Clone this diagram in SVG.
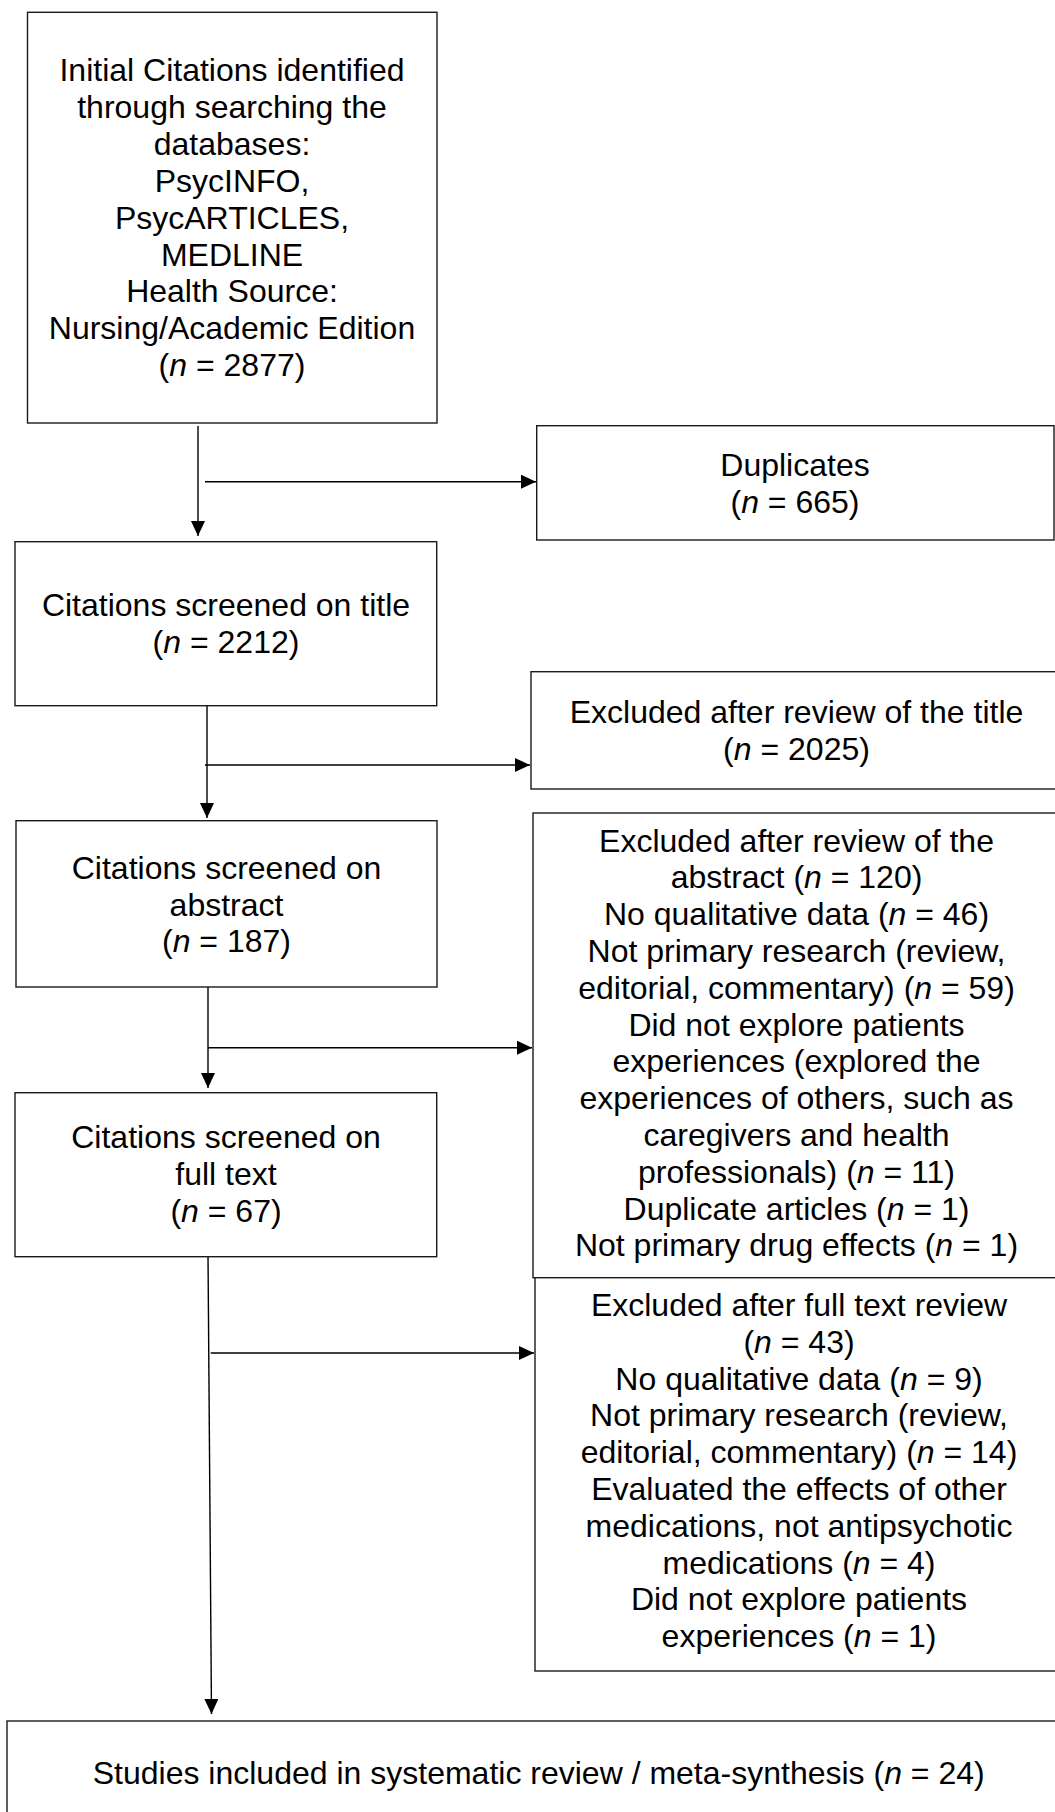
<svg xmlns="http://www.w3.org/2000/svg" width="1055" height="1812" viewBox="0 0 1055 1812">
<style>
.box{fill:#fff;stroke:#1a1a1a;stroke-width:1.4}
.t{font-family:"Liberation Sans",Arial,sans-serif;font-size:32px;text-anchor:middle;fill:#000}
.c{stroke:#000;stroke-width:1.4;fill:none}
.i{font-style:italic}
</style>
<defs>
<marker id="ah" viewBox="0 0 15 14" refX="15" refY="7" markerWidth="15" markerHeight="14" markerUnits="userSpaceOnUse" orient="auto">
<path d="M0,0 L15,7 L0,14 z" fill="#000"/>
</marker>
</defs>
<rect width="1055" height="1812" fill="#fff"/>

<g id="connectors">
<path class="c" d="M198,426 L198,536" marker-end="url(#ah)"/>
<path class="c" d="M205,481.7 L536,481.7" marker-end="url(#ah)"/>
<path class="c" d="M207,706 L207,818" marker-end="url(#ah)"/>
<path class="c" d="M205,765 L530,765" marker-end="url(#ah)"/>
<path class="c" d="M208,969 L208,1088" marker-end="url(#ah)"/>
<path class="c" d="M208,1047.7 L532,1047.7" marker-end="url(#ah)"/>
<path class="c" d="M208,1254 L211.5,1714" marker-end="url(#ah)"/>
<path class="c" d="M210.7,1353 L534,1353" marker-end="url(#ah)"/>
</g>

<g id="initial">
<rect class="box" x="27.5" y="12.3" width="409.5" height="410.7"/>
<text class="t" x="232" y="81">Initial Citations identified</text>
<text class="t" x="232" y="117.9">through searching the</text>
<text class="t" x="232" y="154.8">databases:</text>
<text class="t" x="232" y="191.7">PsycINFO,</text>
<text class="t" x="232" y="228.6">PsycARTICLES,</text>
<text class="t" x="232" y="265.5">MEDLINE</text>
<text class="t" x="232" y="302.4">Health Source:</text>
<text class="t" x="232" y="339.3">Nursing/Academic Edition</text>
<text class="t" x="232" y="376.2">(<tspan class="i">n</tspan> = 2877)</text>
</g>

<g id="duplicates">
<rect class="box" x="536.7" y="425.7" width="517.3" height="114.3"/>
<text class="t" x="795" y="476">Duplicates</text>
<text class="t" x="795" y="513">(<tspan class="i">n</tspan> = 665)</text>
</g>

<g id="title">
<rect class="box" x="15" y="541.7" width="421.7" height="164"/>
<text class="t" x="226" y="616">Citations screened on title</text>
<text class="t" x="226" y="653">(<tspan class="i">n</tspan> = 2212)</text>
</g>

<g id="excl-title">
<rect class="box" x="531" y="671.7" width="530" height="117.3"/>
<text class="t" x="796.5" y="723">Excluded after review of the title</text>
<text class="t" x="796.5" y="760">(<tspan class="i">n</tspan> = 2025)</text>
</g>

<g id="abstract">
<rect class="box" x="16" y="820.7" width="421" height="166.3"/>
<text class="t" x="226.5" y="879">Citations screened on</text>
<text class="t" x="226.5" y="915.5">abstract</text>
<text class="t" x="226.5" y="952">(<tspan class="i">n</tspan> = 187)</text>
</g>

<g id="excl-abstract">
<rect class="box" x="533" y="813" width="528" height="464.7"/>
<text class="t" x="796.5" y="851.5">Excluded after review of the</text>
<text class="t" x="796.5" y="888.3">abstract (<tspan class="i">n</tspan> = 120)</text>
<text class="t" x="796.5" y="925.1">No qualitative data (<tspan class="i">n</tspan> = 46)</text>
<text class="t" x="796.5" y="961.9">Not primary research (review,</text>
<text class="t" x="796.5" y="998.7">editorial, commentary) (<tspan class="i">n</tspan> = 59)</text>
<text class="t" x="796.5" y="1035.5">Did not explore patients</text>
<text class="t" x="796.5" y="1072.3">experiences (explored the</text>
<text class="t" x="796.5" y="1109.1">experiences of others, such as</text>
<text class="t" x="796.5" y="1145.9">caregivers and health</text>
<text class="t" x="796.5" y="1182.7">professionals) (<tspan class="i">n</tspan> = 11)</text>
<text class="t" x="796.5" y="1219.5">Duplicate articles (<tspan class="i">n</tspan> = 1)</text>
<text class="t" x="796.5" y="1256.3">Not primary drug effects (<tspan class="i">n</tspan> = 1)</text>
</g>

<g id="fulltext">
<rect class="box" x="15" y="1092.7" width="421.7" height="164"/>
<text class="t" x="226" y="1148">Citations screened on</text>
<text class="t" x="226" y="1185">full text</text>
<text class="t" x="226" y="1222">(<tspan class="i">n</tspan> = 67)</text>
</g>

<g id="excl-fulltext">
<rect class="box" x="535" y="1277.7" width="530" height="393.3"/>
<text class="t" x="799" y="1316">Excluded after full text review</text>
<text class="t" x="799" y="1352.8">(<tspan class="i">n</tspan> = 43)</text>
<text class="t" x="799" y="1389.6">No qualitative data (<tspan class="i">n</tspan> = 9)</text>
<text class="t" x="799" y="1426.4">Not primary research (review,</text>
<text class="t" x="799" y="1463.2">editorial, commentary) (<tspan class="i">n</tspan> = 14)</text>
<text class="t" x="799" y="1500">Evaluated the effects of other</text>
<text class="t" x="799" y="1536.8">medications, not antipsychotic</text>
<text class="t" x="799" y="1573.6">medications (<tspan class="i">n</tspan> = 4)</text>
<text class="t" x="799" y="1610.4">Did not explore patients</text>
<text class="t" x="799" y="1647.2">experiences (<tspan class="i">n</tspan> = 1)</text>
</g>

<g id="included">
<rect class="box" x="7" y="1721" width="1063" height="120"/>
<text class="t" x="538.7" y="1784">Studies included in systematic review / meta-synthesis (<tspan class="i">n</tspan> = 24)</text>
</g>
</svg>
